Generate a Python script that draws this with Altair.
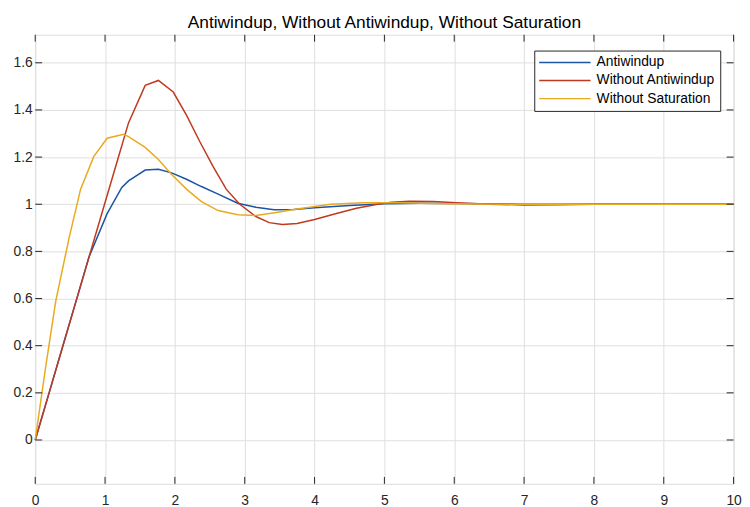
import altair as alt
import pandas as pd

# ---------------- data ----------------
SERIES = ["Antiwindup", "Without Antiwindup", "Without Saturation"]
COLORS = ["#1b55a3", "#c0391f", "#e9aa1f"]

anti_t = [0, 0.2, 0.4, 0.6, 0.77, 1.03, 1.24, 1.336, 1.575, 1.764, 1.953, 2.166,
          2.38, 2.62, 2.9, 3.16, 3.42, 3.7, 4.0, 4.5, 5.0, 5.5, 6.0, 7.0, 8.0, 10.0]
anti_y = [0, 0.201, 0.403, 0.604, 0.776, 0.96, 1.071, 1.099, 1.145, 1.148, 1.133, 1.106,
          1.075, 1.043, 1.004, 0.987, 0.977, 0.978, 0.985, 0.995, 1.002, 1.004, 1.003, 1.0, 1.0, 1.0]

noaw_t = [0, 0.2, 0.4, 0.6, 0.8, 1.0, 1.17, 1.336, 1.575, 1.764, 1.977, 2.166, 2.356,
          2.546, 2.735, 2.925, 3.16, 3.35, 3.54, 3.75, 4.0, 4.3, 4.6, 4.9, 5.1, 5.36,
          5.7, 6.03, 6.5, 7.0, 7.5, 8.0, 9.0, 10.0]
noaw_y = [0, 0.201, 0.403, 0.604, 0.806, 1.007, 1.178, 1.345, 1.504, 1.525, 1.476, 1.378, 1.266,
          1.161, 1.064, 1.001, 0.948, 0.922, 0.914, 0.918, 0.935, 0.96, 0.983, 1.0, 1.008, 1.013,
          1.012, 1.006, 1.0, 0.997, 0.998, 1.0, 1.0, 1.0]

nosat_t = [0, 0.15, 0.294, 0.483, 0.65, 0.84, 1.03, 1.266, 1.336, 1.575, 1.764, 1.95,
           2.166, 2.38, 2.62, 2.9, 3.16, 3.45, 3.75, 4.23, 4.7, 5.2, 5.7, 6.3, 7.0, 8.0, 10.0]
nosat_y = [0, 0.31, 0.589, 0.854, 1.064, 1.203, 1.28, 1.297, 1.287, 1.241, 1.19, 1.127,
           1.064, 1.011, 0.973, 0.955, 0.952, 0.965, 0.98, 1.0, 1.006, 1.006, 1.003, 1.001, 1.0, 1.0, 1.0]

X_TICKS = [0, 1, 2, 3, 4, 5, 6, 7, 8, 9, 10]
Y_TICKS = [0, 0.2, 0.4, 0.6, 0.8, 1, 1.2, 1.4, 1.6]
X_DOMAIN = [0, 10]
Y_DOMAIN = [-0.186, 1.719]
TITLE = "Antiwindup, Without Antiwindup, Without Saturation"

# ---------------- build ----------------
rows = []
for name, ts, vs in zip(SERIES, [anti_t, noaw_t, nosat_t], [anti_y, noaw_y, nosat_y]):
    for i, (t, v) in enumerate(zip(ts, vs)):
        rows.append({"series": name, "t": t, "y": v, "i": i})
df = pd.DataFrame(rows)

W, H = 706, 454
FONT = "Liberation Sans"
AX = "#262626"
TL = 7

xs = alt.Scale(domain=X_DOMAIN, nice=False, zero=False)
ys = alt.Scale(domain=Y_DOMAIN, nice=False, zero=False)
x_axis = alt.Axis(values=X_TICKS, format="d", title=None, grid=True,
                  ticks=False, domain=False, labelPadding=10, labelFlush=False,
                  labelFont=FONT, labelFontSize=14, labelColor=AX,
                  gridColor="#dfdfdf", gridWidth=1, gridOpacity=1)
y_axis = alt.Axis(values=Y_TICKS, format="~g", title=None, grid=True,
                  ticks=False, domain=False, labelPadding=3, labelFlush=False,
                  labelFont=FONT, labelFontSize=14, labelColor=AX,
                  gridColor="#dfdfdf", gridWidth=1, gridOpacity=1)

lines = alt.Chart(df).mark_line(strokeWidth=1.5).encode(
    x=alt.X("t:Q", scale=xs, axis=x_axis),
    y=alt.Y("y:Q", scale=ys, axis=y_axis),
    color=alt.Color("series:N",
                    scale=alt.Scale(domain=SERIES, range=COLORS),
                    sort=SERIES,
                    legend=alt.Legend(title=None, orient="none", legendX=504.5, legendY=16,
                                      symbolType="M-1.35,0H8.65", symbolSize=108,
                                      symbolStrokeWidth=1.5,
                                      labelFont=FONT, labelFontSize=14, labelColor="#000",
                                      labelOffset=44, rowPadding=4.3, padding=5,
                                      strokeColor=AX, fillColor="white")),
    order="i:Q",
)

xt = pd.DataFrame({"t": X_TICKS})
yt = pd.DataFrame({"y": Y_TICKS})

xb = alt.Chart(xt).mark_rule(color=AX, strokeWidth=1).encode(
    x=alt.X("t:Q", scale=xs, axis=x_axis), y=alt.value(H), y2=alt.value(H - TL))
xtop = alt.Chart(xt).mark_rule(color=AX, strokeWidth=1).encode(
    x=alt.X("t:Q", scale=xs, axis=x_axis), y=alt.value(0), y2=alt.value(TL))
yl = alt.Chart(yt).mark_rule(color=AX, strokeWidth=1).encode(
    y=alt.Y("y:Q", scale=ys, axis=y_axis), x=alt.value(0), x2=alt.value(TL))
yr = alt.Chart(yt).mark_rule(color=AX, strokeWidth=1).encode(
    y=alt.Y("y:Q", scale=ys, axis=y_axis), x=alt.value(W), x2=alt.value(W - TL))

chart = alt.layer(lines, xb, xtop, yl, yr).properties(
    width=W, height=H,
    title=alt.TitleParams(TITLE, fontSize=17.5, font=FONT, fontWeight="normal",
                          color="#000", offset=3, anchor="middle"),
    padding={"left": 27.5, "top": 24.3, "right": 8.5, "bottom": 20.7},
    autosize=alt.AutoSizeParams(type="none"),
).configure_view(
    stroke=AX, strokeWidth=1
).configure(background="white")

chart.save("out.html", embed_options={"renderer": "svg", "actions": False})
